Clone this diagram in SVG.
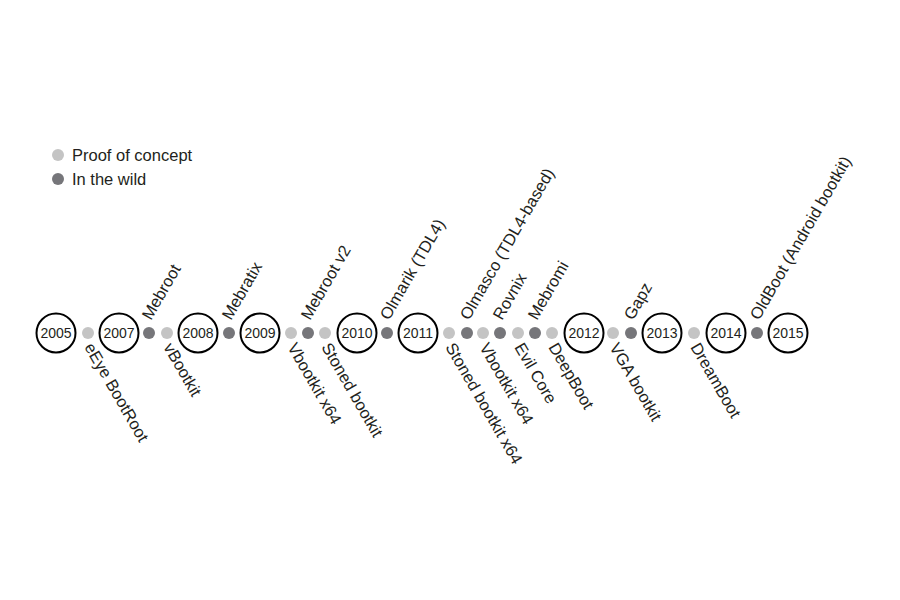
<svg xmlns="http://www.w3.org/2000/svg" width="900" height="600" viewBox="0 0 900 600">
<style>
text{font-family:"Liberation Sans",Arial,sans-serif;fill:#231f20}
.lbl{font-size:16.5px}
.yr{font-size:14px;text-anchor:middle}
.yc{fill:#fff;stroke:#000;stroke-width:2}
.poc{fill:#c4c4c4}
.wild{fill:#76767a}
</style>
<rect width="900" height="600" fill="#fff"/>
<g id="legend">
<circle class="poc" cx="58" cy="155" r="6"/>
<text class="lbl" x="72" y="161">Proof of concept</text>
<circle class="wild" cx="58" cy="179" r="6"/>
<text class="lbl" x="72" y="185">In the wild</text>
</g>
<g id="years">
<g id="y2005"><circle class="yc" cx="56" cy="333" r="19.5"/><text class="yr" x="56" y="338">2005</text></g>
<g id="y2007"><circle class="yc" cx="119" cy="333" r="19.5"/><text class="yr" x="119" y="338">2007</text></g>
<g id="y2008"><circle class="yc" cx="198" cy="333" r="19.5"/><text class="yr" x="198" y="338">2008</text></g>
<g id="y2009"><circle class="yc" cx="260" cy="333" r="19.5"/><text class="yr" x="260" y="338">2009</text></g>
<g id="y2010"><circle class="yc" cx="357" cy="333" r="19.5"/><text class="yr" x="357" y="338">2010</text></g>
<g id="y2011"><circle class="yc" cx="418" cy="333" r="19.5"/><text class="yr" x="418" y="338">2011</text></g>
<g id="y2012"><circle class="yc" cx="584" cy="333" r="19.5"/><text class="yr" x="584" y="338">2012</text></g>
<g id="y2013"><circle class="yc" cx="662" cy="333" r="19.5"/><text class="yr" x="662" y="338">2013</text></g>
<g id="y2014"><circle class="yc" cx="726" cy="333" r="19.5"/><text class="yr" x="726" y="338">2014</text></g>
<g id="y2015"><circle class="yc" cx="788" cy="333" r="19.5"/><text class="yr" x="788" y="338">2015</text></g>
</g>
<g id="dots">
<circle class="poc" cx="88" cy="333" r="6"/>
<circle class="wild" cx="149" cy="333" r="6"/>
<circle class="poc" cx="167" cy="333" r="6"/>
<circle class="wild" cx="229" cy="333" r="6"/>
<circle class="poc" cx="291" cy="333" r="6"/>
<circle class="wild" cx="308" cy="333" r="6"/>
<circle class="poc" cx="325" cy="333" r="6"/>
<circle class="wild" cx="387" cy="333" r="6"/>
<circle class="poc" cx="449" cy="333" r="6"/>
<circle class="wild" cx="467" cy="333" r="6"/>
<circle class="poc" cx="483" cy="333" r="6"/>
<circle class="wild" cx="500" cy="333" r="6"/>
<circle class="poc" cx="518" cy="333" r="6"/>
<circle class="wild" cx="535" cy="333" r="6"/>
<circle class="poc" cx="552" cy="333" r="6"/>
<circle class="poc" cx="613" cy="333" r="6"/>
<circle class="wild" cx="631" cy="333" r="6"/>
<circle class="poc" cx="694" cy="333" r="6"/>
<circle class="wild" cx="757" cy="333" r="6"/>
</g>
<g id="labels-up">
<text class="lbl" transform="translate(151,321) rotate(-60)">Mebroot</text>
<text class="lbl" transform="translate(231,321) rotate(-60)">Mebratix</text>
<text class="lbl" transform="translate(310,321) rotate(-60)">Mebroot v2</text>
<text class="lbl" transform="translate(389,321) rotate(-60)">Olmarik (TDL4)</text>
<text class="lbl" transform="translate(469,321) rotate(-60)">Olmasco (TDL4-based)</text>
<text class="lbl" transform="translate(502,321) rotate(-60)">Rovnix</text>
<text class="lbl" transform="translate(537,321) rotate(-60)">Mebromi</text>
<text class="lbl" transform="translate(633,321) rotate(-60)">Gapz</text>
<text class="lbl" transform="translate(759,321) rotate(-60)">OldBoot (Android bootkit)</text>
</g>
<g id="labels-down">
<text class="lbl" transform="translate(84,347) rotate(60)">eEye BootRoot</text>
<text class="lbl" transform="translate(163,347) rotate(60)">vBootkit</text>
<text class="lbl" transform="translate(287,347) rotate(60)">Vbootkit x64</text>
<text class="lbl" transform="translate(321,347) rotate(60)">Stoned bootkit</text>
<text class="lbl" transform="translate(445,347) rotate(60)">Stoned bootkit x64</text>
<text class="lbl" transform="translate(479,347) rotate(60)">Vbootkit x64</text>
<text class="lbl" transform="translate(514,347) rotate(60)">Evil Core</text>
<text class="lbl" transform="translate(548,347) rotate(60)">DeepBoot</text>
<text class="lbl" transform="translate(609,347) rotate(60)">VGA bootkit</text>
<text class="lbl" transform="translate(690,347) rotate(60)">DreamBoot</text>
</g>
</svg>
